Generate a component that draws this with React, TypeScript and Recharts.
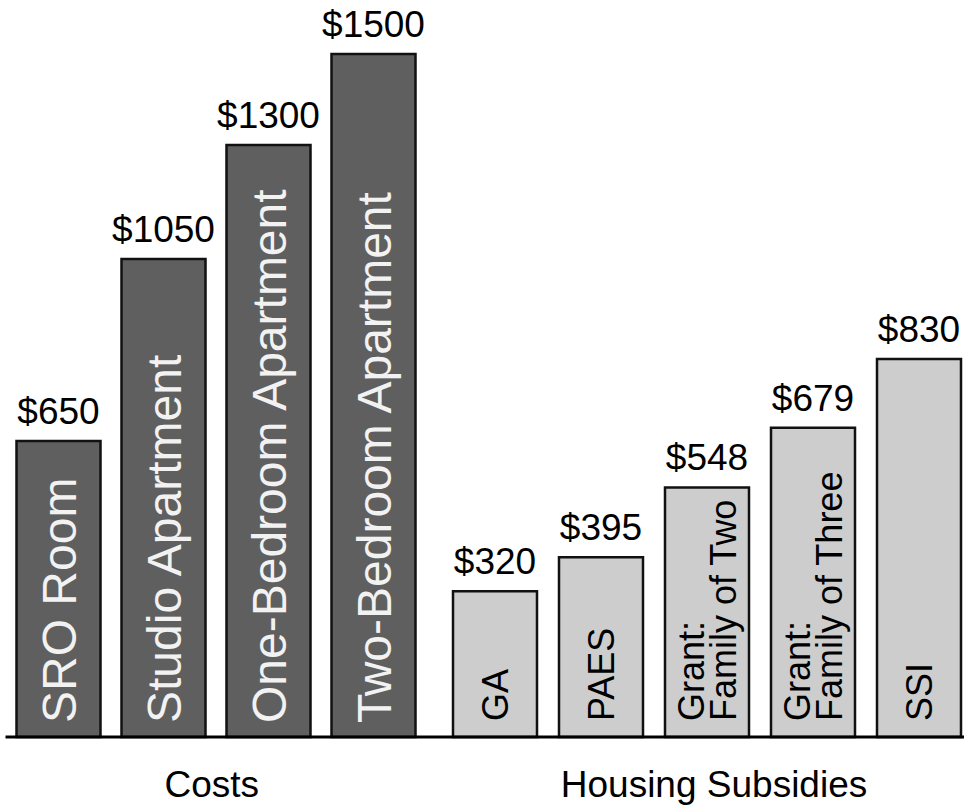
import React from 'react'
import { BarChart, Bar, XAxis, YAxis, LabelList } from 'recharts'

/* ─── Data ─── */

const costCategories = ['SRO Room', 'Studio Apartment', 'One-Bedroom Apartment', 'Two-Bedroom Apartment']
const costValues = [650, 1050, 1300, 1500]
const costLines = [['SRO Room'], ['Studio Apartment'], ['One-Bedroom Apartment'], ['Two-Bedroom Apartment']]

const subsidyCategories = ['GA', 'PAES', 'Grant: Family of Two', 'Grant: Family of Three', 'SSI']
const subsidyValues = [320, 395, 548, 679, 830]
const subsidyLines = [['GA'], ['PAES'], ['Grant:', 'Family of Two'], ['Grant:', 'Family of Three'], ['SSI']]

const groupLabels = ['Costs', 'Housing Subsidies']

/* ─── Constants ─── */

const FONT = '"Liberation Sans", Arial, Helvetica, sans-serif'
const DARK = '#5f5f5f'
const LIGHT = '#cdcdcd'
const Y_DOMAIN: [number, number] = [0, 1500]
const MARGIN_TOP = 54
const AXIS_H = 68

const costData = costCategories.map((name, i) => ({ name, value: costValues[i] }))
const subsidyData = subsidyCategories.map((name, i) => ({ name, value: subsidyValues[i] }))

/* ─── Labels ─── */

function ValueLabel(props: any) {
  const { x, y, width, value } = props
  return (
    <text
      x={Number(x) + Number(width) / 2}
      y={Number(y) - 17}
      textAnchor="middle"
      fontSize={37}
      fontFamily={FONT}
      fill="#000"
    >
      ${value}
    </text>
  )
}

function InBarLabel(props: any) {
  const { x, y, width, height, index, lines, fontSize, fill, lineGap, inset } = props
  const cx = Number(x) + Number(width) / 2
  const base = Number(y) + Number(height) - inset
  const rows: string[] = lines[index]
  const capH = fontSize * 0.72
  const blockW = capH + (rows.length - 1) * lineGap
  const first = -blockW / 2 + capH
  return (
    <g transform={`translate(${cx},${base}) rotate(-90)`}>
      <text fontSize={fontSize} fontFamily={FONT} fill={fill}>
        {rows.map((r, i) => (
          <tspan key={i} x={0} y={first + i * lineGap}>
            {r}
          </tspan>
        ))}
      </text>
    </g>
  )
}

function GroupLabel(props: any) {
  const { viewBox, text, shift } = props
  const vb = viewBox || { x: 0, y: 0, width: 0, height: 0 }
  return (
    <text
      x={vb.x + vb.width / 2 + shift}
      y={vb.y + 60}
      textAnchor="middle"
      fontSize={37}
      fontFamily={FONT}
      fill="#000"
    >
      {text}
    </text>
  )
}

/* ─── Main ─── */

export default function App() {
  return (
    <div
      style={{
        position: 'absolute',
        left: 0,
        top: 0,
        width: 964,
        height: 805,
        overflow: 'hidden',
        background: '#fff',
      }}
    >
      <div style={{ position: 'absolute', left: 0, top: 0 }}>
        <BarChart
          width={442}
          height={805}
          data={costData}
          margin={{ top: MARGIN_TOP, right: 0, bottom: 0, left: 5.5 }}
        >
          <XAxis
            dataKey="name"
            tick={false}
            tickLine={false}
            axisLine={{ stroke: '#000', strokeWidth: 3 }}
            height={AXIS_H}
            padding={{ left: 0, right: 16.5 }}
            label={<GroupLabel text={groupLabels[0]} shift={-12} />}
          />
          <YAxis hide domain={Y_DOMAIN} />
          <Bar
            dataKey="value"
            fill={DARK}
            stroke="#111"
            strokeWidth={2.5}
            barSize={84}
            isAnimationActive={false}
          >
            <LabelList dataKey="value" content={(p: any) => <ValueLabel {...p} />} />
            <LabelList
              dataKey="name"
              content={(p: any) => (
                <InBarLabel {...p} lines={costLines} fontSize={48} fill="#f2f2f2" lineGap={40} inset={14} />
              )}
            />
          </Bar>
        </BarChart>
      </div>

      <div style={{ position: 'absolute', left: 442, top: 0 }}>
        <BarChart
          width={530}
          height={805}
          data={subsidyData}
          margin={{ top: MARGIN_TOP, right: 0, bottom: 0, left: 0 }}
        >
          <XAxis
            dataKey="name"
            tick={false}
            tickLine={false}
            axisLine={{ stroke: '#000', strokeWidth: 3 }}
            height={AXIS_H}
            label={<GroupLabel text={groupLabels[1]} shift={7} />}
          />
          <YAxis hide domain={Y_DOMAIN} />
          <Bar
            dataKey="value"
            fill={LIGHT}
            stroke="#111"
            strokeWidth={2.5}
            barSize={84}
            isAnimationActive={false}
          >
            <LabelList dataKey="value" content={(p: any) => <ValueLabel {...p} />} />
            <LabelList
              dataKey="name"
              content={(p: any) => (
                <InBarLabel {...p} lines={subsidyLines} fontSize={36} fill="#000" lineGap={32} inset={16} />
              )}
            />
          </Bar>
        </BarChart>
      </div>
    </div>
  )
}
